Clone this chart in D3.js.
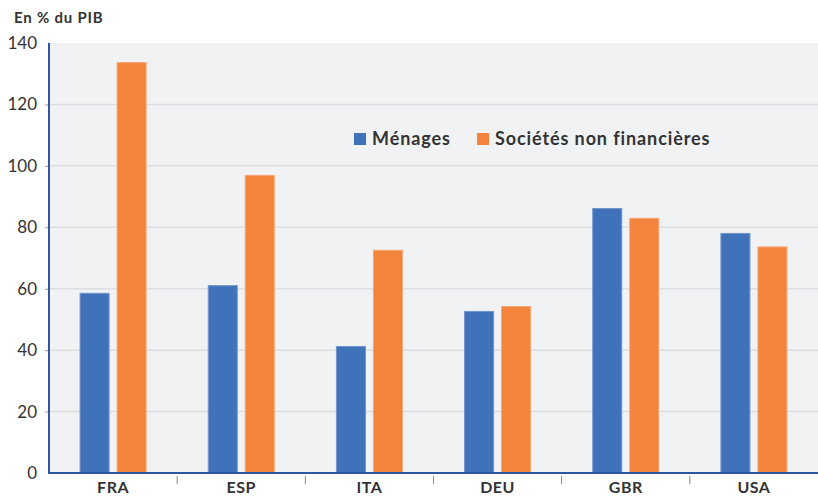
<!DOCTYPE html>
<html lang="fr">
<head>
    <meta charset="UTF-8">
    <title>Endettement en % du PIB</title>
    <script src="https://d3js.org/d3.v7.min.js"></script>
    <style>
        html, body {
            margin: 0;
            background: #ffffff;
        }

        text {
            font-family: "Lato", "Open Sans", sans-serif;
            fill: #333333;
        }
    </style>
</head>
<body>
<div class="chart"></div>

<script>
    var countries = ["FRA", "ESP", "ITA", "DEU", "GBR", "USA"];
    var menages = [58.5, 61, 41.2, 52.6, 86.1, 78];
    var societes = [133.6, 96.9, 72.5, 54.2, 82.9, 73.6];
    var seriesNames = ["Ménages", "Sociétés non financières"];
    var yTicks = [0, 20, 40, 60, 80, 100, 120, 140];

    var colors = ["#3f72b9", "#f2843b"];

    var width = 818, height = 497;
    var margin = {left: 49, right: 0, top: 43, bottom: 24};
    var innerW = width - margin.left - margin.right;
    var innerH = height - margin.top - margin.bottom;

    var svg = d3.select('.chart').append('svg')
        .attr('width', width).attr('height', height);

    var g = svg.append('g')
        .attr('transform', 'translate(' + margin.left + ',' + margin.top + ')');

    var x = d3.scaleBand().domain(countries).range([0, innerW]);
    var y = d3.scaleLinear().domain([0, 140]).range([innerH, 0]);

    // plot background
    g.append('rect')
        .attr('width', innerW).attr('height', innerH)
        .attr('fill', '#f1f2f4');

    // grid
    g.selectAll('.grid').data(yTicks.slice(1, -1)).enter().append('line')
        .attr('x1', 0).attr('x2', innerW)
        .attr('y1', function (d) { return y(d); })
        .attr('y2', function (d) { return y(d); })
        .attr('stroke', '#dcdde1').attr('stroke-width', 1.5);

    var barW = 29, gap = 8;
    var series = [menages, societes];
    series.forEach(function (vals, s) {
        g.selectAll('.bar' + s).data(countries).enter().append('rect')
            .attr('x', function (d) {
                var c = x(d) + x.bandwidth() / 2;
                return s === 0 ? c - gap / 2 - barW : c + gap / 2;
            })
            .attr('y', function (d, i) { return y(vals[i]); })
            .attr('width', barW)
            .attr('height', function (d, i) { return innerH - y(vals[i]); })
            .attr('fill', colors[s])
            .attr('stroke', s === 0 ? '#6f95cc' : '#f6a673')
            .attr('stroke-width', 1);
    });

    // y axis
    var yAxis = d3.axisLeft(y).tickValues(yTicks).tickSize(4).tickPadding(8);
    var ya = g.append('g').call(yAxis);
    ya.select('.domain').remove();
    ya.selectAll('.tick line').attr('stroke', '#999');
    ya.selectAll('.tick text').style('font-size', '17px').attr('fill', '#333');
    ya.selectAll('.tick').filter(function (d) { return d === 0 || d === 140; })
        .select('line').remove();

    // x axis separators
    g.selectAll('.sep').data(countries.slice(1)).enter().append('line')
        .attr('x1', function (d) { return x(d); })
        .attr('x2', function (d) { return x(d); })
        .attr('y1', innerH + 3).attr('y2', innerH + 11)
        .attr('stroke', '#888');

    g.selectAll('.cat').data(countries).enter().append('text')
        .attr('x', function (d) { return x(d) + x.bandwidth() / 2; })
        .attr('y', innerH + 20)
        .attr('text-anchor', 'middle')
        .style('font-size', '16px').style('font-weight', 'bold')
        .style('letter-spacing', '0.5px')
        .text(function (d) { return d; });

    // axis lines
    g.append('line').attr('x1', 0).attr('x2', 0).attr('y1', 0).attr('y2', innerH + 1)
        .attr('stroke', '#2f55a4').attr('stroke-width', 2);
    g.append('line').attr('x1', 0).attr('x2', innerW).attr('y1', innerH).attr('y2', innerH)
        .attr('stroke', '#2f55a4').attr('stroke-width', 2);

    // title
    svg.append('text').attr('x', 14).attr('y', 23)
        .style('font-size', '15px').style('font-weight', 'bold')
        .style('letter-spacing', '0.8px')
        .text('En % du PIB');

    // legend
    var legend = svg.append('g').attr('transform', 'translate(354,133)');
    var legX = [0, 123];
    seriesNames.forEach(function (name, i) {
        legend.append('rect').attr('x', legX[i]).attr('y', 0)
            .attr('width', 12).attr('height', 12).attr('fill', colors[i]);
        legend.append('text').attr('x', legX[i] + 18).attr('y', 12)
            .style('font-size', '18px').style('font-weight', 'bold')
            .style('letter-spacing', '0.9px')
            .text(name);
    });
</script>
</body>
</html>
